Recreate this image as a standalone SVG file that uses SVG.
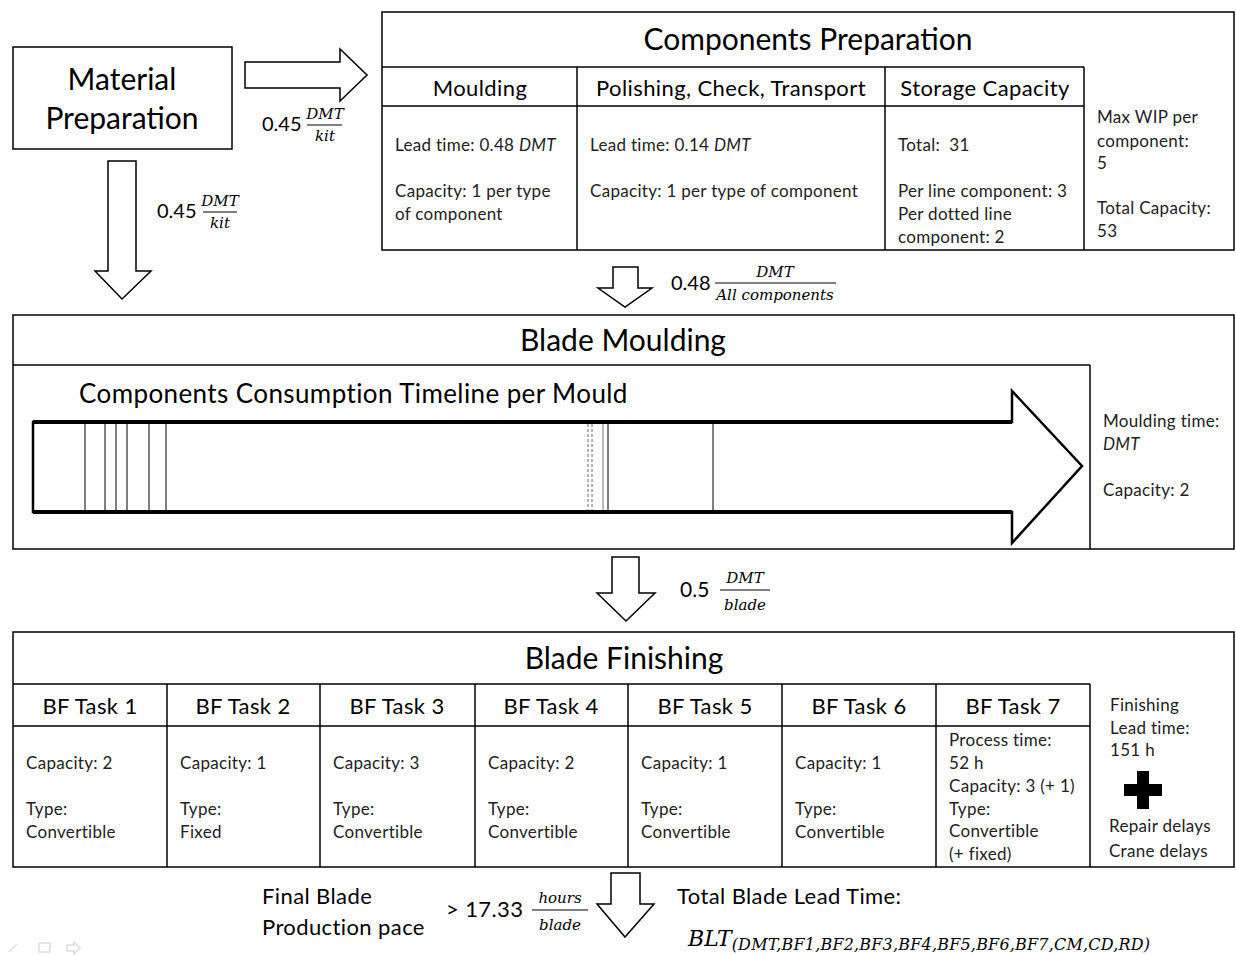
<svg xmlns="http://www.w3.org/2000/svg" width="1236" height="955" viewBox="0 0 1236 955">
<style>
.box{fill:#fff;stroke:#000;stroke-width:1.5}
.ln{stroke:#000;stroke-width:1.5;fill:none}
.arr{fill:#fff;stroke:#000;stroke-width:1.5;stroke-linejoin:miter}
.t{font-family:Lato,"Liberation Sans",sans-serif;fill:#000}
.h1{font-size:30px;text-anchor:middle}
.h2{font-size:22px;text-anchor:middle;letter-spacing:0.4px}
.b{font-size:17px;fill:#222;letter-spacing:0.3px}
.m{font-family:"DejaVu Serif","Liberation Serif",serif;font-style:italic;fill:#000}
.num{font-size:15px;text-anchor:middle}
.v{stroke:#000;stroke-width:1}
.lg{font-size:22px;letter-spacing:0.4px}
</style>
<rect width="1236" height="955" fill="#fff"/>

<g id="connectors">
  <polygon class="arr" points="245,62 340,62 340,49 367,75 340,101 340,88 245,88"/>
  <polygon class="arr" points="108,161 136,161 136,271 151,271 122,299 95,271 108,271"/>
  <polygon class="arr" points="613,267 638,267 638,288 652,288 625,307 598,288 613,288"/>
  <polygon class="arr" points="612,557 639,557 639,593 655,593 626,621 597,593 612,593"/>
  <polygon class="arr" points="611,873 640,873 640,904 654,904 625,937 597,904 611,904"/>
  <g id="label-mat-comp">
    <text class="t" x="262" y="131" font-size="20">0.45</text>
    <text class="m num" x="325" y="119">DMT</text>
    <line class="v" x1="307" y1="125" x2="342" y2="125"/>
    <text class="m num" x="325" y="141">kit</text>
  </g>
  <g id="label-mat-mould">
    <text class="t" x="157" y="218" font-size="20">0.45</text>
    <text class="m num" x="220" y="206">DMT</text>
    <line class="v" x1="203" y1="212" x2="237" y2="212"/>
    <text class="m num" x="220" y="228">kit</text>
  </g>
  <g id="label-comp-mould">
    <text class="t" x="671" y="290" font-size="20">0.48</text>
    <text class="m num" x="775" y="277">DMT</text>
    <line class="v" x1="715" y1="283" x2="836" y2="283"/>
    <text class="m num" x="775" y="300">All components</text>
  </g>
  <g id="label-mould-fin">
    <text class="t" x="680" y="597" font-size="21">0.5</text>
    <text class="m num" x="745" y="583">DMT</text>
    <line class="v" x1="720" y1="590" x2="770" y2="590"/>
    <text class="m num" x="745" y="610">blade</text>
  </g>
  <g id="label-final">
    <text class="t lg" x="262" y="904">Final Blade</text>
    <text class="t lg" x="262" y="935">Production pace</text>
    <text class="t lg" x="446" y="917">&gt; 17.33</text>
    <text class="m num" x="560" y="903">hours</text>
    <line class="v" x1="532" y1="910" x2="588" y2="910"/>
    <text class="m num" x="560" y="930">blade</text>
    <text class="t lg" x="677" y="904">Total Blade Lead Time:</text>
    <text class="m" x="688" y="946" font-size="22">BLT<tspan font-size="16" letter-spacing="0.2" dy="4">(DMT,BF1,BF2,BF3,BF4,BF5,BF6,BF7,CM,CD,RD)</tspan></text>
  </g>
</g>

<g id="material-preparation">
  <rect class="box" x="13" y="47" width="219" height="102"/>
  <text class="t h1" x="122" y="90">Material</text>
  <text class="t h1" x="122" y="129">Preparation</text>
</g>

<g id="components-preparation">
  <rect class="box" x="382" y="12" width="852" height="238"/>
  <text class="t h1" x="808" y="50">Components Preparation</text>
  <line class="ln" x1="382" y1="67" x2="1084" y2="67"/>
  <line class="ln" x1="382" y1="106" x2="1084" y2="106"/>
  <line class="ln" x1="577" y1="67" x2="577" y2="250"/>
  <line class="ln" x1="885" y1="67" x2="885" y2="250"/>
  <line class="ln" x1="1084" y1="67" x2="1084" y2="250"/>
  <text class="t h2" x="480" y="96">Moulding</text>
  <text class="t h2" x="731" y="96">Polishing, Check, Transport</text>
  <text class="t h2" x="985" y="96">Storage Capacity</text>
  <text class="t b" x="395" y="151">Lead time: 0.48 <tspan font-style="italic">DMT</tspan></text>
  <text class="t b" x="395" y="197">Capacity: 1 per type</text>
  <text class="t b" x="395" y="220">of component</text>
  <text class="t b" x="590" y="151">Lead time: 0.14 <tspan font-style="italic">DMT</tspan></text>
  <text class="t b" x="590" y="197">Capacity: 1 per type of component</text>
  <text class="t b" x="898" y="151" xml:space="preserve">Total:  31</text>
  <text class="t b" x="898" y="197">Per line component: 3</text>
  <text class="t b" x="898" y="220">Per dotted line</text>
  <text class="t b" x="898" y="243">component: 2</text>
  <text class="t b" x="1097" y="123">Max WIP per</text>
  <text class="t b" x="1097" y="147">component:</text>
  <text class="t b" x="1097" y="169">5</text>
  <text class="t b" x="1097" y="214">Total Capacity:</text>
  <text class="t b" x="1097" y="237">53</text>
</g>

<g id="blade-moulding">
  <rect class="box" x="13" y="315" width="1221" height="234"/>
  <text class="t h1" x="623" y="351">Blade Moulding</text>
  <line class="ln" x1="13" y1="365" x2="1090" y2="365"/>
  <line class="ln" x1="1090" y1="365" x2="1090" y2="549"/>
  <text class="t" x="79" y="403" font-size="26" letter-spacing="0.4">Components Consumption Timeline per Mould</text>
  <polygon points="33,422 1012,422 1012,391 1082,466 1012,543 1012,512 33,512" fill="#fff" stroke="#000" stroke-width="2.5" stroke-linejoin="miter"/>
  <line x1="33" y1="422" x2="1012" y2="422" stroke="#000" stroke-width="4"/>
  <line x1="33" y1="512" x2="1012" y2="512" stroke="#000" stroke-width="4"/>
  <g stroke="#000" stroke-width="1">
    <line x1="85" y1="424" x2="85" y2="510"/>
    <line x1="105" y1="424" x2="105" y2="510"/>
    <line x1="116" y1="424" x2="116" y2="510"/>
    <line x1="127" y1="424" x2="127" y2="510"/>
    <line x1="149" y1="424" x2="149" y2="510"/>
    <line x1="166" y1="424" x2="166" y2="510"/>
    <line x1="588" y1="424" x2="588" y2="510" stroke="#666" stroke-dasharray="3,2"/>
    <line x1="592" y1="424" x2="592" y2="510" stroke="#666" stroke-dasharray="3,2"/>
    <line x1="603" y1="424" x2="603" y2="510" stroke="#777"/>
    <line x1="608" y1="424" x2="608" y2="510"/>
    <line x1="713" y1="424" x2="713" y2="510"/>
  </g>
  <text class="t b" x="1103" y="427">Moulding time:</text>
  <text class="t b" x="1103" y="450" font-style="italic">DMT</text>
  <text class="t b" x="1103" y="496">Capacity: 2</text>
</g>

<g id="blade-finishing">
  <rect class="box" x="13" y="632" width="1221" height="235"/>
  <text class="t h1" x="624" y="669">Blade Finishing</text>
  <line class="ln" x1="13" y1="684" x2="1090" y2="684"/>
  <line class="ln" x1="13" y1="726" x2="1090" y2="726"/>
  <g class="ln">
    <line x1="167" y1="684" x2="167" y2="867"/>
    <line x1="320" y1="684" x2="320" y2="867"/>
    <line x1="475" y1="684" x2="475" y2="867"/>
    <line x1="628" y1="684" x2="628" y2="867"/>
    <line x1="782" y1="684" x2="782" y2="867"/>
    <line x1="936" y1="684" x2="936" y2="867"/>
    <line x1="1090" y1="684" x2="1090" y2="867"/>
  </g>
  <g id="bf1">
    <text class="t h2" x="90" y="714">BF Task 1</text>
    <text class="t b" x="26" y="769">Capacity: 2</text>
    <text class="t b" x="26" y="815">Type:</text>
    <text class="t b" x="26" y="838">Convertible</text>
  </g>
  <g id="bf2">
    <text class="t h2" x="243" y="714">BF Task 2</text>
    <text class="t b" x="180" y="769">Capacity: 1</text>
    <text class="t b" x="180" y="815">Type:</text>
    <text class="t b" x="180" y="838">Fixed</text>
  </g>
  <g id="bf3">
    <text class="t h2" x="397" y="714">BF Task 3</text>
    <text class="t b" x="333" y="769">Capacity: 3</text>
    <text class="t b" x="333" y="815">Type:</text>
    <text class="t b" x="333" y="838">Convertible</text>
  </g>
  <g id="bf4">
    <text class="t h2" x="551" y="714">BF Task 4</text>
    <text class="t b" x="488" y="769">Capacity: 2</text>
    <text class="t b" x="488" y="815">Type:</text>
    <text class="t b" x="488" y="838">Convertible</text>
  </g>
  <g id="bf5">
    <text class="t h2" x="705" y="714">BF Task 5</text>
    <text class="t b" x="641" y="769">Capacity: 1</text>
    <text class="t b" x="641" y="815">Type:</text>
    <text class="t b" x="641" y="838">Convertible</text>
  </g>
  <g id="bf6">
    <text class="t h2" x="859" y="714">BF Task 6</text>
    <text class="t b" x="795" y="769">Capacity: 1</text>
    <text class="t b" x="795" y="815">Type:</text>
    <text class="t b" x="795" y="838">Convertible</text>
  </g>
  <g id="bf7">
    <text class="t h2" x="1013" y="714">BF Task 7</text>
    <text class="t b" x="949" y="746">Process time:</text>
    <text class="t b" x="949" y="769">52 h</text>
    <text class="t b" x="949" y="792">Capacity: 3 (+ 1)</text>
    <text class="t b" x="949" y="815">Type:</text>
    <text class="t b" x="949" y="837">Convertible</text>
    <text class="t b" x="949" y="860">(+ fixed)</text>
  </g>
  <g id="finishing-summary">
    <text class="t b" x="1110" y="711">Finishing</text>
    <text class="t b" x="1110" y="734">Lead time:</text>
    <text class="t b" x="1110" y="756">151 h</text>
    <path d="M1137,771 h12 v13 h13 v12 h-13 v13 h-12 v-13 h-13 v-12 h13 z" fill="#000"/>
    <text class="t b" x="1109" y="832">Repair delays</text>
    <text class="t b" x="1109" y="857">Crane delays</text>
  </g>
</g>

<g id="toolbar" fill="none" stroke="#ddd" stroke-width="1.5">
  <line x1="9" y1="952" x2="17" y2="944"/>
  <rect x="39" y="943" width="11" height="9"/>
  <path d="M67,945 h7 v-3 l6,6 l-6,6 v-3 h-7 z"/>
</g>
</svg>
